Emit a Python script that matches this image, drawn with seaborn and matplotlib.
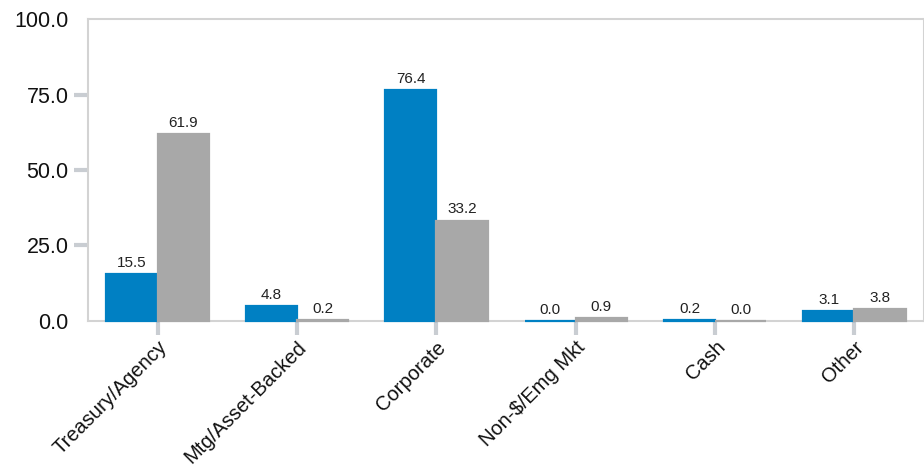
import matplotlib
matplotlib.use("Agg")
import matplotlib.pyplot as plt
import matplotlib.transforms as mtransforms
import pandas as pd
import seaborn as sns

categories = ["Treasury/Agency", "Mtg/Asset-Backed", "Corporate", "Non-$/Emg Mkt", "Cash", "Other"]
fund_values = [15.5, 4.8, 76.4, 0.0, 0.2, 3.1]
benchmark_values = [61.9, 0.2, 33.2, 0.9, 0.0, 3.8]
series_names = ["Fund", "Benchmark"]
y_ticks = [0, 25, 50, 75, 100]

BLUE = "#0080C3"
GRAY = "#A8A8A8"
AXIS_GRAY = "#D3D3D3"

df = pd.DataFrame({
    "categoria": categories * 2,
    "valor": fund_values + benchmark_values,
    "serie": [series_names[0]] * len(categories) + [series_names[1]] * len(categories),
})

sns.set_theme(style="white")
plt.rcParams["font.family"] = ["Liberation Sans", "DejaVu Sans"]

fig = plt.figure(figsize=(9.24, 4.65), dpi=100)
ax = fig.add_axes([0.0952, 0.31, 0.905, 0.649])

sns.barplot(
    data=df, x="categoria", y="valor", hue="serie", order=categories,
    hue_order=series_names, palette=[BLUE, GRAY], width=0.735, gap=0,
    saturation=1, legend=False, ax=ax,
)
for patch in ax.patches:
    patch.set_edgecolor(patch.get_facecolor())
    patch.set_linewidth(1.6)
    patch.set_zorder(3)
    patch.set_clip_on(False)

for container in ax.containers:
    ax.bar_label(container, fmt="%.1f", padding=3, fontsize=11, color="#222222")

ax.set_ylim(0, 100)
ax.set_xlim(-0.5, 5.5)
ax.set_yticks(y_ticks)
ax.set_yticklabels([f"{v:.1f}" for v in y_ticks], fontsize=15.5, color="#111111")
ax.set_xticks(range(len(categories)))
ax.set_xticklabels(categories, rotation=45, ha="right", rotation_mode="anchor", fontsize=14.5, color="#111111")
ax.set_xlabel("")
ax.set_ylabel("")

offset = mtransforms.ScaledTranslation(9 / 100, 10 / 100, fig.dpi_scale_trans)
for lbl in ax.get_xticklabels():
    lbl.set_transform(lbl.get_transform() + offset)

for side in ["left", "top", "bottom", "right"]:
    ax.spines[side].set_color(AXIS_GRAY)
    ax.spines[side].set_linewidth(1.5)
ax.tick_params(axis="both", which="both", bottom=True, left=True, length=10, width=3,
               color="#C9CDD2", direction="out")
ax.tick_params(axis="y", pad=4)
ax.tick_params(axis="x", pad=2)

# no tick marks at 0 and 100 on the y axis
y_tick_objs = ax.yaxis.get_major_ticks()
y_tick_objs[0].tick1line.set_visible(False)
y_tick_objs[-1].tick1line.set_visible(False)

fig.savefig("out.png", dpi=100)
